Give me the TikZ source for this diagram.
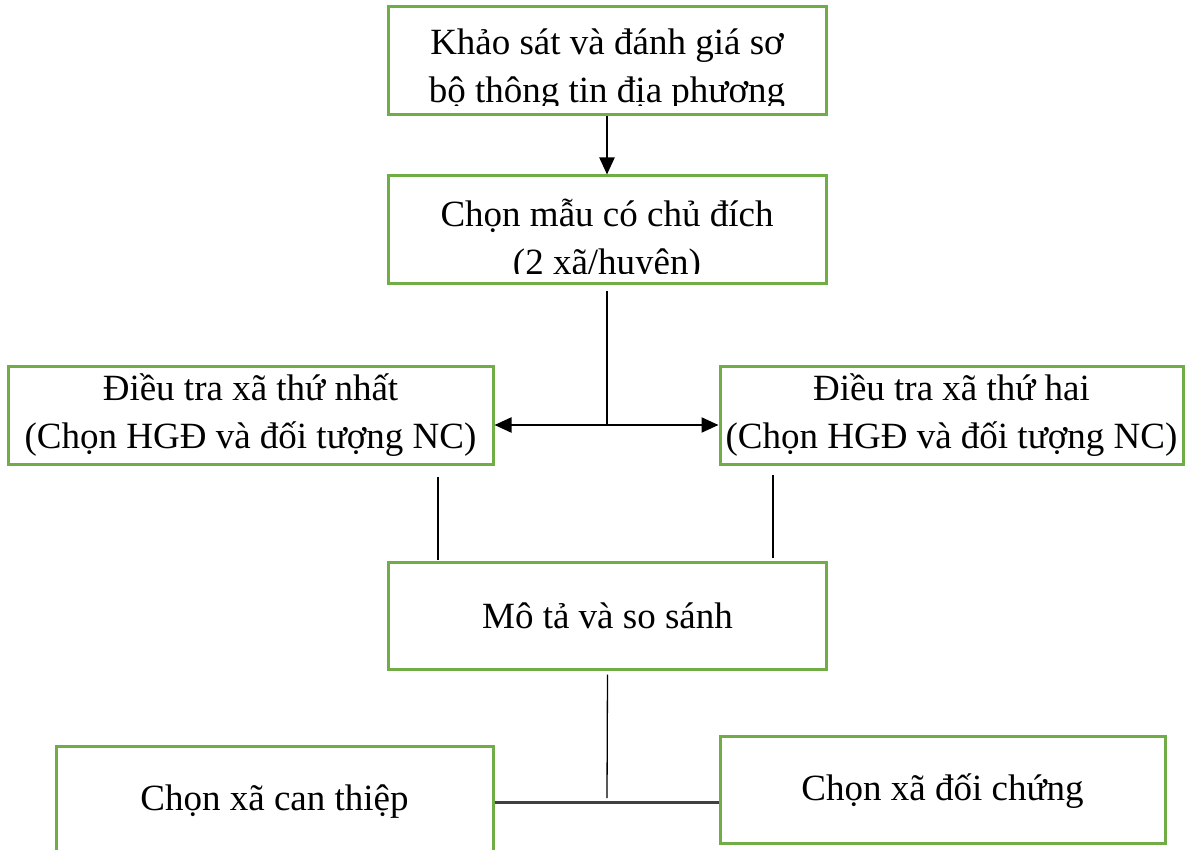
\documentclass[tikz,border=0pt]{standalone}
\usepackage{fontspec}
\setmainfont{Liberation Serif}
\usetikzlibrary{arrows.meta}
\definecolor{boxgreen}{HTML}{70AD47}
\definecolor{linegray}{HTML}{404040}
\begin{document}
\begin{tikzpicture}[x=1pt,y=-1pt,
  >={Triangle[length=17pt,width=15pt]},
  gbox/.style={draw=boxgreen, line width=3pt, inner sep=0pt},
  txt/.style={font=\fontsize{37}{48}\selectfont, align=center, inner sep=0pt},
  conn/.style={draw=black, line width=1.3pt},
  arr/.style={draw=black, line width=2.2pt}]
\useasboundingbox (0,0) rectangle (1195,850);
% boxes
\node[gbox, minimum width=438pt, minimum height=108pt] (b1) at (607,61) {};
\node[gbox, minimum width=438pt, minimum height=108pt] (b2) at (607,230) {};
\node[gbox, minimum width=485pt, minimum height=97pt] (b3) at (250.5,415.5) {};
\node[gbox, minimum width=463pt, minimum height=97pt] (b4) at (951.5,415.5) {};
\node[gbox, minimum width=438pt, minimum height=107pt] (b5) at (607.5,615.5) {};
\node[gbox, minimum width=437pt, minimum height=112pt] (b6) at (274.5,802) {};
\node[gbox, minimum width=445pt, minimum height=107pt] (b7) at (942.5,789.5) {};
% texts
\begin{scope}
\clip (b1.north west) rectangle ([yshift=11pt]b1.south east);
\node[txt] (t1) at (607,70) {Khảo sát và đánh giá sơ\\bộ thông tin địa phương};
\end{scope}
\begin{scope}
\clip (b2.north west) rectangle ([yshift=12pt]b2.south east);
\node[txt] (t2) at (607,241) {Chọn mẫu có chủ đích\\(2 xã/huyện)};
\end{scope}
\node[txt] (t3) at (b3.center) {Điều tra xã thứ nhất\\(Chọn HGĐ và đối tượng NC)};
\node[txt] (t4) at (b4.center) {Điều tra xã thứ hai\\(Chọn HGĐ và đối tượng NC)};
\node[txt] (t5) at (b5.center) {Mô tả và so sánh};
\node[txt] (t6) at (274.5,802) {Chọn xã can thiệp};
\node[txt] (t7) at (942.5,791) {Chọn xã đối chứng};
% junction coordinates
\coordinate (j1) at (607,425);
\coordinate (l1) at (438,477);
\coordinate (l2) at (438,560);
\coordinate (r1) at (773,475);
\coordinate (r2) at (773,558);
\coordinate (j2) at (607,802);
% connectors
\draw[arr, ->] (b1.south) -- (b2.north);
\draw[conn] ([yshift=-6pt]b2.south) -- (j1);
\draw[arr, ->] (j1) -- (j1 -| b3.east);
\draw[arr, ->] (j1) -- (j1 -| b4.west);
\draw[conn] (l1) -- (l2);
\draw[conn] (r1) -- (r2);
\draw[conn] ([yshift=-4pt]b5.south) -- ([yshift=4pt]j2);
\draw[draw=linegray, line width=3pt] (j2 -| b6.east) -- (j2 -| b7.west);
\end{tikzpicture}
\end{document}
